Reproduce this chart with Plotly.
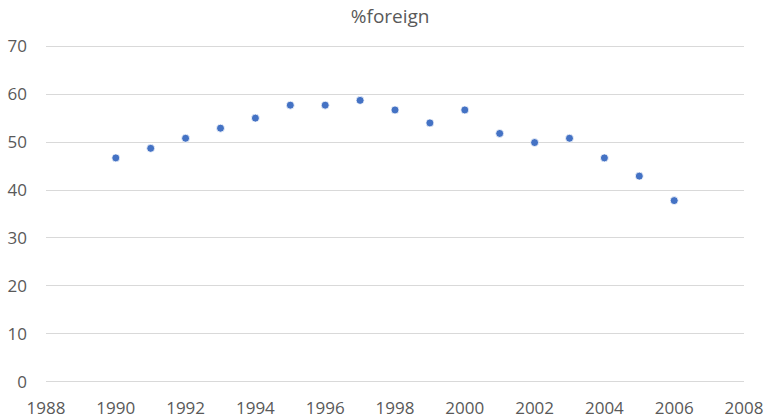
import plotly.graph_objects as go

years = [1990, 1991, 1992, 1993, 1994, 1995, 1996, 1997, 1998,
         1999, 2000, 2001, 2002, 2003, 2004, 2005, 2006]
pct_foreign = [46.7, 48.7, 50.8, 52.9, 55.0, 57.7, 57.7, 58.7, 56.7,
               54.0, 56.7, 51.8, 49.9, 50.8, 46.7, 42.9, 37.8]

fig = go.Figure()
fig.add_trace(go.Scatter(
    x=years, y=pct_foreign, mode='markers',
    marker=dict(color='#4472C4', size=8, line=dict(color='white', width=0.8)),
    showlegend=False
))

fig.update_layout(
    width=765, height=420,
    margin=dict(l=46, r=21, t=45, b=37),
    paper_bgcolor='white', plot_bgcolor='white',
    font=dict(family='Open Sans, sans-serif', size=17, color='#595959'),
    title=dict(text='%foreign', x=0.51, xanchor='center', y=0.96, yanchor='middle',
               font=dict(size=19, color='#595959')),
)
fig.update_xaxes(range=[1988, 2008], dtick=2, tick0=1988, showgrid=False,
                 zeroline=False, showline=False, ticks='', ticklabelstandoff=13,
                 automargin=False)
# range padded a little so the 0 and 70 gridlines are drawn
fig.update_yaxes(range=[-0.25, 70.25], dtick=10, showgrid=True, gridcolor='#D9D9D9',
                 gridwidth=1, zeroline=False, showline=False, ticks='',
                 ticklabelstandoff=18, automargin=False)

# drop the page's default 8px body margin, no modebar
fig.write_html("out.html", config={'displayModeBar': False},
               post_script="document.body.style.margin='0';")
